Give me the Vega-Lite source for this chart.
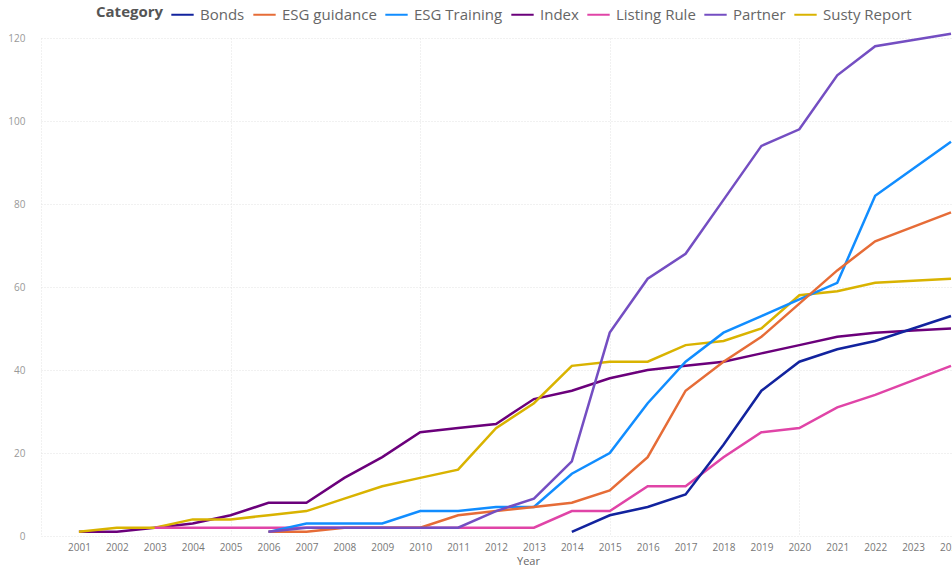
{
  "$schema": "https://vega.github.io/schema/vega-lite/v6.json",
  "width": 910,
  "height": 498,
  "autosize": {"type": "none"},
  "padding": {"left": 41, "top": 38, "right": 1, "bottom": 30},
  "background": "white",
  "config": {
    "font": "Open Sans",
    "view": {"stroke": null}
  },
  "data": {
    "values": [
      {"Year": 2001, "Category": "Index", "Count": 1},
      {"Year": 2002, "Category": "Index", "Count": 1},
      {"Year": 2003, "Category": "Index", "Count": 2},
      {"Year": 2004, "Category": "Index", "Count": 3},
      {"Year": 2005, "Category": "Index", "Count": 5},
      {"Year": 2006, "Category": "Index", "Count": 8},
      {"Year": 2007, "Category": "Index", "Count": 8},
      {"Year": 2008, "Category": "Index", "Count": 14},
      {"Year": 2009, "Category": "Index", "Count": 19},
      {"Year": 2010, "Category": "Index", "Count": 25},
      {"Year": 2011, "Category": "Index", "Count": 26},
      {"Year": 2012, "Category": "Index", "Count": 27},
      {"Year": 2013, "Category": "Index", "Count": 33},
      {"Year": 2014, "Category": "Index", "Count": 35},
      {"Year": 2015, "Category": "Index", "Count": 38},
      {"Year": 2016, "Category": "Index", "Count": 40},
      {"Year": 2017, "Category": "Index", "Count": 41},
      {"Year": 2018, "Category": "Index", "Count": 42},
      {"Year": 2019, "Category": "Index", "Count": 44},
      {"Year": 2020, "Category": "Index", "Count": 46},
      {"Year": 2021, "Category": "Index", "Count": 48},
      {"Year": 2022, "Category": "Index", "Count": 49},
      {"Year": 2023, "Category": "Index", "Count": 49.5},
      {"Year": 2024, "Category": "Index", "Count": 50},

      {"Year": 2001, "Category": "Susty Report", "Count": 1},
      {"Year": 2002, "Category": "Susty Report", "Count": 2},
      {"Year": 2003, "Category": "Susty Report", "Count": 2},
      {"Year": 2004, "Category": "Susty Report", "Count": 4},
      {"Year": 2005, "Category": "Susty Report", "Count": 4},
      {"Year": 2006, "Category": "Susty Report", "Count": 5},
      {"Year": 2007, "Category": "Susty Report", "Count": 6},
      {"Year": 2008, "Category": "Susty Report", "Count": 9},
      {"Year": 2009, "Category": "Susty Report", "Count": 12},
      {"Year": 2010, "Category": "Susty Report", "Count": 14},
      {"Year": 2011, "Category": "Susty Report", "Count": 16},
      {"Year": 2012, "Category": "Susty Report", "Count": 26},
      {"Year": 2013, "Category": "Susty Report", "Count": 32},
      {"Year": 2014, "Category": "Susty Report", "Count": 41},
      {"Year": 2015, "Category": "Susty Report", "Count": 42},
      {"Year": 2016, "Category": "Susty Report", "Count": 42},
      {"Year": 2017, "Category": "Susty Report", "Count": 46},
      {"Year": 2018, "Category": "Susty Report", "Count": 47},
      {"Year": 2019, "Category": "Susty Report", "Count": 50},
      {"Year": 2020, "Category": "Susty Report", "Count": 58},
      {"Year": 2021, "Category": "Susty Report", "Count": 59},
      {"Year": 2022, "Category": "Susty Report", "Count": 61},
      {"Year": 2023, "Category": "Susty Report", "Count": 61.5},
      {"Year": 2024, "Category": "Susty Report", "Count": 62},

      {"Year": 2003, "Category": "Listing Rule", "Count": 2},
      {"Year": 2004, "Category": "Listing Rule", "Count": 2},
      {"Year": 2005, "Category": "Listing Rule", "Count": 2},
      {"Year": 2006, "Category": "Listing Rule", "Count": 2},
      {"Year": 2007, "Category": "Listing Rule", "Count": 2},
      {"Year": 2008, "Category": "Listing Rule", "Count": 2},
      {"Year": 2009, "Category": "Listing Rule", "Count": 2},
      {"Year": 2010, "Category": "Listing Rule", "Count": 2},
      {"Year": 2011, "Category": "Listing Rule", "Count": 2},
      {"Year": 2012, "Category": "Listing Rule", "Count": 2},
      {"Year": 2013, "Category": "Listing Rule", "Count": 2},
      {"Year": 2014, "Category": "Listing Rule", "Count": 6},
      {"Year": 2015, "Category": "Listing Rule", "Count": 6},
      {"Year": 2016, "Category": "Listing Rule", "Count": 12},
      {"Year": 2017, "Category": "Listing Rule", "Count": 12},
      {"Year": 2018, "Category": "Listing Rule", "Count": 19},
      {"Year": 2019, "Category": "Listing Rule", "Count": 25},
      {"Year": 2020, "Category": "Listing Rule", "Count": 26},
      {"Year": 2021, "Category": "Listing Rule", "Count": 31},
      {"Year": 2022, "Category": "Listing Rule", "Count": 34},
      {"Year": 2023, "Category": "Listing Rule", "Count": 37.5},
      {"Year": 2024, "Category": "Listing Rule", "Count": 41},

      {"Year": 2006, "Category": "ESG Training", "Count": 1},
      {"Year": 2007, "Category": "ESG Training", "Count": 3},
      {"Year": 2008, "Category": "ESG Training", "Count": 3},
      {"Year": 2009, "Category": "ESG Training", "Count": 3},
      {"Year": 2010, "Category": "ESG Training", "Count": 6},
      {"Year": 2011, "Category": "ESG Training", "Count": 6},
      {"Year": 2012, "Category": "ESG Training", "Count": 7},
      {"Year": 2013, "Category": "ESG Training", "Count": 7},
      {"Year": 2014, "Category": "ESG Training", "Count": 15},
      {"Year": 2015, "Category": "ESG Training", "Count": 20},
      {"Year": 2016, "Category": "ESG Training", "Count": 32},
      {"Year": 2017, "Category": "ESG Training", "Count": 42},
      {"Year": 2018, "Category": "ESG Training", "Count": 49},
      {"Year": 2019, "Category": "ESG Training", "Count": 53},
      {"Year": 2020, "Category": "ESG Training", "Count": 57},
      {"Year": 2021, "Category": "ESG Training", "Count": 61},
      {"Year": 2022, "Category": "ESG Training", "Count": 82},
      {"Year": 2023, "Category": "ESG Training", "Count": 88.5},
      {"Year": 2024, "Category": "ESG Training", "Count": 95},

      {"Year": 2006, "Category": "ESG guidance", "Count": 1},
      {"Year": 2007, "Category": "ESG guidance", "Count": 1},
      {"Year": 2008, "Category": "ESG guidance", "Count": 2},
      {"Year": 2009, "Category": "ESG guidance", "Count": 2},
      {"Year": 2010, "Category": "ESG guidance", "Count": 2},
      {"Year": 2011, "Category": "ESG guidance", "Count": 5},
      {"Year": 2012, "Category": "ESG guidance", "Count": 6},
      {"Year": 2013, "Category": "ESG guidance", "Count": 7},
      {"Year": 2014, "Category": "ESG guidance", "Count": 8},
      {"Year": 2015, "Category": "ESG guidance", "Count": 11},
      {"Year": 2016, "Category": "ESG guidance", "Count": 19},
      {"Year": 2017, "Category": "ESG guidance", "Count": 35},
      {"Year": 2018, "Category": "ESG guidance", "Count": 42},
      {"Year": 2019, "Category": "ESG guidance", "Count": 48},
      {"Year": 2020, "Category": "ESG guidance", "Count": 56},
      {"Year": 2021, "Category": "ESG guidance", "Count": 64},
      {"Year": 2022, "Category": "ESG guidance", "Count": 71},
      {"Year": 2023, "Category": "ESG guidance", "Count": 74.5},
      {"Year": 2024, "Category": "ESG guidance", "Count": 78},

      {"Year": 2006, "Category": "Partner", "Count": 1},
      {"Year": 2007, "Category": "Partner", "Count": 2},
      {"Year": 2008, "Category": "Partner", "Count": 2},
      {"Year": 2009, "Category": "Partner", "Count": 2},
      {"Year": 2010, "Category": "Partner", "Count": 2},
      {"Year": 2011, "Category": "Partner", "Count": 2},
      {"Year": 2012, "Category": "Partner", "Count": 6},
      {"Year": 2013, "Category": "Partner", "Count": 9},
      {"Year": 2014, "Category": "Partner", "Count": 18},
      {"Year": 2015, "Category": "Partner", "Count": 49},
      {"Year": 2016, "Category": "Partner", "Count": 62},
      {"Year": 2017, "Category": "Partner", "Count": 68},
      {"Year": 2018, "Category": "Partner", "Count": 81},
      {"Year": 2019, "Category": "Partner", "Count": 94},
      {"Year": 2020, "Category": "Partner", "Count": 98},
      {"Year": 2021, "Category": "Partner", "Count": 111},
      {"Year": 2022, "Category": "Partner", "Count": 118},
      {"Year": 2023, "Category": "Partner", "Count": 119.5},
      {"Year": 2024, "Category": "Partner", "Count": 121},

      {"Year": 2014, "Category": "Bonds", "Count": 1},
      {"Year": 2015, "Category": "Bonds", "Count": 5},
      {"Year": 2016, "Category": "Bonds", "Count": 7},
      {"Year": 2017, "Category": "Bonds", "Count": 10},
      {"Year": 2018, "Category": "Bonds", "Count": 22},
      {"Year": 2019, "Category": "Bonds", "Count": 35},
      {"Year": 2020, "Category": "Bonds", "Count": 42},
      {"Year": 2021, "Category": "Bonds", "Count": 45},
      {"Year": 2022, "Category": "Bonds", "Count": 47},
      {"Year": 2023, "Category": "Bonds", "Count": 50},
      {"Year": 2024, "Category": "Bonds", "Count": 53}
    ]
  },
  "mark": {"type": "line", "strokeWidth": 2.5, "clip": false},
  "encoding": {
    "x": {
      "field": "Year",
      "type": "quantitative",
      "scale": {"domain": [2000, 2024], "nice": false, "zero": false},
      "axis": {
        "values": [2000, 2001, 2002, 2003, 2004, 2005, 2006, 2007, 2008, 2009, 2010, 2011, 2012, 2013, 2014, 2015, 2016, 2017, 2018, 2019, 2020, 2021, 2022, 2023, 2024],
        "format": "d",
        "labelExpr": "datum.value == 2000 ? '' : datum.label",
        "grid": true,
        "gridColor": "#e2e2e2",
        "gridDash": [1, 2],
        "gridOpacity": {"condition": {"test": "datum.value % 5 === 0", "value": 1}, "value": 0},
        "domain": false,
        "ticks": false,
        "labelFontSize": 10,
        "labelColor": "#777777",
        "labelPadding": 6,
        "labelOverlap": false,
        "labelFlush": false,
        "labelBound": false,
        "title": "Year",
        "titleFontSize": 11,
        "titleFontWeight": "normal",
        "titleColor": "#666666",
        "titlePadding": 0,
        "titleX": 487,
        "titleY": 19
      }
    },
    "y": {
      "field": "Count",
      "type": "quantitative",
      "scale": {"domain": [0, 120], "nice": false},
      "axis": {
        "values": [0, 20, 40, 60, 80, 100, 120],
        "grid": true,
        "gridColor": "#e2e2e2",
        "gridDash": [1, 2],
        "domain": false,
        "ticks": false,
        "labelFontSize": 10,
        "labelColor": "#999999",
        "labelPadding": 16,
        "title": null
      }
    },
    "color": {
      "field": "Category",
      "type": "nominal",
      "scale": {
        "domain": ["Bonds", "ESG guidance", "ESG Training", "Index", "Listing Rule", "Partner", "Susty Report"],
        "range": ["#12239E", "#E66C37", "#118DFF", "#6B007B", "#E044A7", "#744EC2", "#D9B300"]
      },
      "legend": {
        "orient": "none",
        "legendX": 55,
        "legendY": -36,
        "direction": "horizontal",
        "title": "Category",
        "titleOrient": "left",
        "titleFontSize": 15,
        "titleFontWeight": "bold",
        "titleColor": "#555555",
        "titlePadding": 6,
        "labelFontSize": 15,
        "labelColor": "#666666",
        "symbolType": "stroke",
        "symbolStrokeWidth": 2,
        "symbolSize": 500,
        "columnPadding": 4,
        "labelOffset": 5
      }
    }
  }
}
